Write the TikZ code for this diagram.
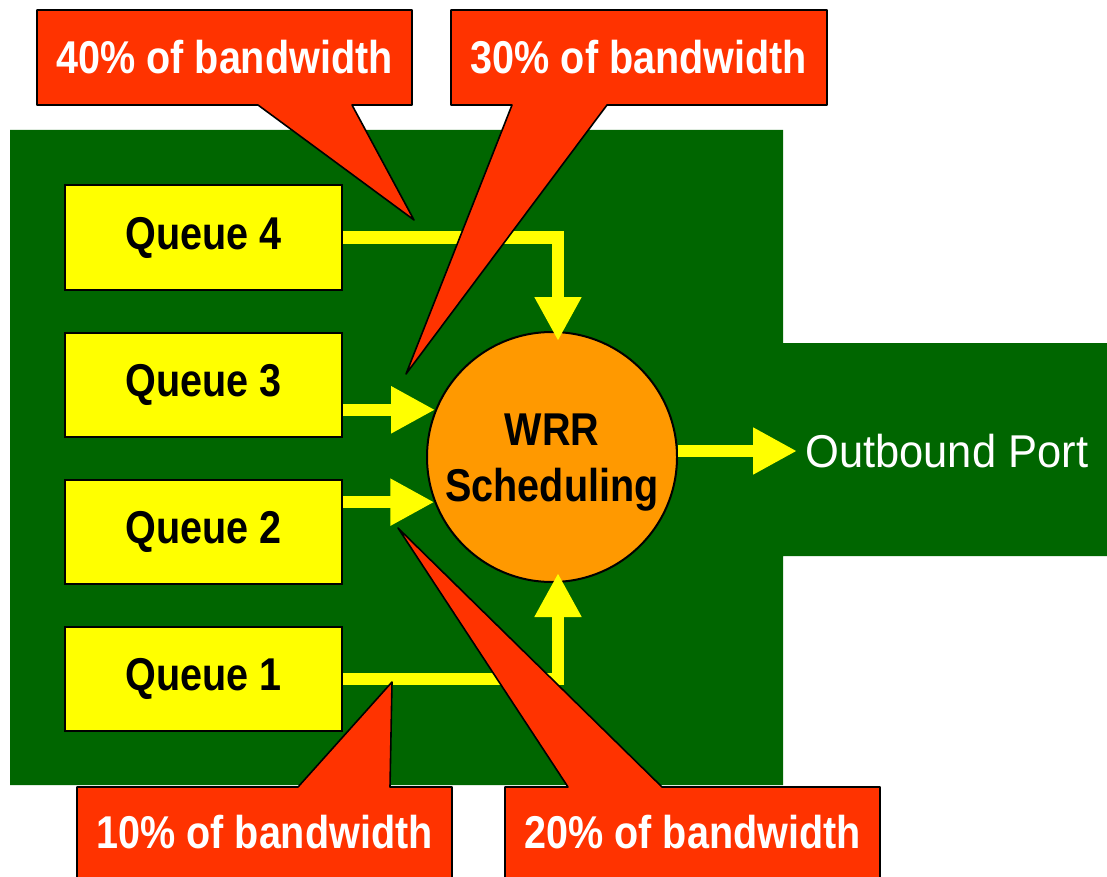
\documentclass[tikz,border=0pt]{standalone}
\usepackage{fontspec}
\setmainfont{Liberation Sans}
\usetikzlibrary{arrows.meta}

\definecolor{wrrgreen}{RGB}{0,102,0}
\definecolor{wrryellow}{RGB}{255,255,0}
\definecolor{wrrorange}{RGB}{255,153,0}
\definecolor{wrrred}{RGB}{255,51,0}

\newcommand{\squeezed}[1]{\scalebox{0.86}[1]{#1}}

\tikzset{
  queue/.style={rectangle, draw=black, line width=1pt, fill=wrryellow,
                minimum width=138.5pt, minimum height=52pt, inner sep=0pt,
                font=\bfseries\fontsize{23pt}{27pt}\selectfont},
  wrr/.style={circle, draw=black, line width=1pt, fill=wrrorange,
              minimum size=125pt, inner sep=0pt},
  wrrtext/.style={align=center, inner sep=0pt,
                  font=\bfseries\fontsize{23pt}{28pt}\selectfont},
  port/.style={text=white, inner sep=4pt,
               font=\fontsize{23pt}{27pt}\selectfont},
  flow/.style={draw=wrryellow, line width=6pt,
               -{Triangle[length=22pt,width=22pt]}},
  callout/.style={fill=wrrred, draw=black, line width=0.8pt, line join=round},
  calltext/.style={text=white, inner sep=0pt,
                   font=\bfseries\fontsize{23pt}{27pt}\selectfont}
}

\begin{document}
\begin{tikzpicture}[x=0.5pt, y=-0.5pt, node distance=73.5pt]
  \useasboundingbox (0,0) rectangle (1107,877);

  % switch body and outbound strip
  \fill[wrrgreen] (10,130) -- (783,130) -- (783,343) -- (1107,343)
                  -- (1107,556) -- (783,556) -- (783,785) -- (10,785) -- cycle;

  \node[queue] (q4) at (203.5,237.5) {\squeezed{Queue 4}};
  \node[queue] (q3) [below of=q4]    {\squeezed{Queue 3}};
  \node[queue] (q2) [below of=q3]    {\squeezed{Queue 2}};
  \node[queue] (q1) [below of=q2]    {\squeezed{Queue 1}};

  \node[wrr] (rr) at (552,457) {};
  \node[wrrtext] (rrlabel) at ([yshift=-3pt]rr.center)
       {\squeezed{WRR}\\\squeezed{Scheduling}};
  \node[port, anchor=west] (out) at (797,451) {\scalebox{0.945}[1]{Outbound Port}};

  \draw[flow, shorten >=-5pt] (q4.east) -| ([xshift=3pt]rr.north);
  \draw[flow] (q3.east |- rr.158.4) -- (rr.158.4);
  \draw[flow] (q2.east |- rr.201.6) -- (rr.201.6);
  \draw[flow, shorten >=-5pt] (q1.east) -| ([xshift=3pt]rr.south);
  \draw[flow] (rr.east |- out.west) -- (out.west);

  % callouts
  \draw[callout] (37,10) -- (412,10) -- (412,105) -- (352,105) -- (414,220)
                 -- (258,105) -- (37,105) -- cycle;
  \node[calltext] (c40) at (224.5,57.5) {\squeezed{40\% of bandwidth}};

  \draw[callout] (451,10) -- (827,10) -- (827,105) -- (607,105) -- (406,374)
                 -- (512,105) -- (451,105) -- cycle;
  \node[calltext] (c30) at (639,57.5) {\squeezed{30\% of bandwidth}};

  \draw[callout] (77,787) -- (298,787) -- (392,682) -- (390,787) -- (452,787)
                 -- (452,880) -- (77,880) -- cycle;
  \node[calltext] (c10) at (264.5,832) {\squeezed{10\% of bandwidth}};

  \draw[callout] (505,787) -- (568,787) -- (398,528) -- (662,787) -- (880,787)
                 -- (880,880) -- (505,880) -- cycle;
  \node[calltext] (c20) at (692.5,832) {\squeezed{20\% of bandwidth}};
\end{tikzpicture}
\end{document}
